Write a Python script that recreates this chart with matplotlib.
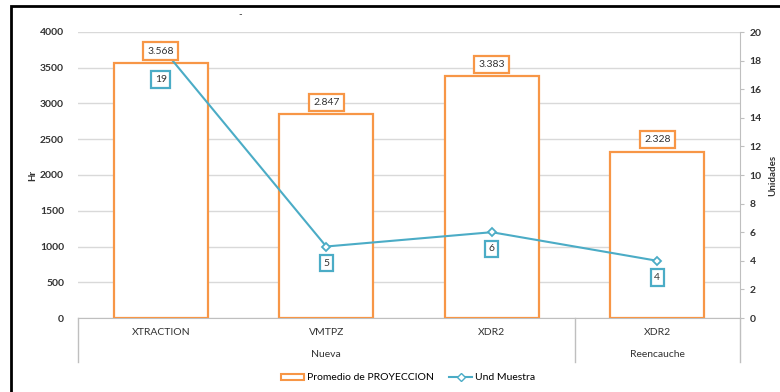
import matplotlib
matplotlib.use("Agg")
import matplotlib.pyplot as plt
from matplotlib.patches import Rectangle, Patch
from matplotlib.lines import Line2D

plt.rcParams['font.family'] = ['Lato', 'DejaVu Sans']

categories = ["XTRACTION", "VMTPZ", "XDR2", "XDR2"]
groups = ["Nueva", "Reencauche"]
group_sizes = [3, 1]
hours = [3568, 2847, 3383, 2328]
hour_labels = ["3.568", "2.847", "3.383", "2.328"]
units = [19, 5, 6, 4]

ORANGE = "#F79646"
TEAL = "#4BACC6"
GRID = "#D9D9D9"
TXT = "#333333"

fig = plt.figure(figsize=(7.8, 3.92), dpi=100)
ax = fig.add_axes([78/780, 1-318/392, (740-78)/780, (318-32)/392])
x = list(range(len(categories)))
ax.bar(x, hours, width=0.565, facecolor="white", edgecolor=ORANGE, linewidth=1.6, zorder=3)
ax.set_xlim(-0.5, len(categories)-0.5)
ax.set_ylim(0, 4000)
ax.set_yticks(range(0, 4001, 500))
ax.yaxis.grid(True, color=GRID, linewidth=1.0, zorder=0)
ax.set_axisbelow(True)
for s in ["top", "left", "right"]:
    ax.spines[s].set_visible(False)
ax.spines["bottom"].set_color("#BFBFBF")
ax.tick_params(axis="y", length=0, labelsize=7.5, labelcolor=TXT, pad=10)
ax.tick_params(axis="x", length=0, labelbottom=False)
for lab in ax.get_yticklabels():
    lab.set_fontweight("bold")

ax2 = ax.twinx()
ax2.set_ylim(0, 20)
ax2.set_yticks(range(0, 21, 2))
ax2.plot(x, units, color=TEAL, linewidth=1.5, marker="D", markersize=4.5,
         markerfacecolor="white", markeredgecolor=TEAL, markeredgewidth=1.3, zorder=5)
for s in ["top", "left", "bottom"]:
    ax2.spines[s].set_visible(False)
ax2.spines["right"].set_color("#BFBFBF")
ax2.spines["right"].set_bounds(0, 20)
ax2.tick_params(axis="y", length=3, color="#BFBFBF", labelsize=7.5, labelcolor=TXT, pad=4)
for lab in ax2.get_yticklabels():
    lab.set_fontweight("bold")

# line labels
line_offsets = [-24, -12, -12, -12]
for xi, u, off in zip(x, units, line_offsets):
    ax2.annotate(str(u), xy=(xi, u), xytext=(0, off), textcoords="offset points",
                 ha="center", va="center", fontsize=7.5, color=TXT, zorder=8,
                 bbox=dict(boxstyle="square,pad=0.35", facecolor="white", edgecolor=TEAL, linewidth=1.6))
# bar labels (on top of line)
for xi, h, lab in zip(x, hours, hour_labels):
    ax2.annotate(lab, xy=(xi, h), xycoords=ax.transData, xytext=(0, 8.5), textcoords="offset points",
                 ha="center", va="center", fontsize=7.5, color=TXT, zorder=9,
                 bbox=dict(boxstyle="square,pad=0.4", facecolor="white", edgecolor=ORANGE, linewidth=1.6))

# multi-level category axis
trans = ax.get_xaxis_transform()
for xi, c in zip(x, categories):
    ax.text(xi, -0.052, c, transform=trans, ha="center", va="center", fontsize=7.5, color=TXT)
start = 0
seps = [-0.5]
for g, n in zip(groups, group_sizes):
    center = start + (n - 1) / 2
    ax.text(center, -0.129, g, transform=trans, ha="center", va="center", fontsize=7.5, color=TXT)
    start += n
    seps.append(start - 0.5)
for sx in seps:
    ax.plot([sx, sx], [0, -0.154], transform=trans, color="#BFBFBF", linewidth=1, clip_on=False)

fig.text(33/780, 1-175/392, "Hr", rotation=90, ha="center", va="center", fontsize=7,
         fontweight="bold", color=TXT)
fig.text(773/780, 1-175/392, "Unidades", rotation=90, ha="center", va="center", fontsize=7,
         fontweight="bold", color=TXT)
fig.text(240/780, 1-15/392, "-", ha="center", va="center", fontsize=7, color=TXT)

handles = [Patch(facecolor="white", edgecolor=ORANGE, linewidth=1.5),
           Line2D([0], [0], color=TEAL, linewidth=1.5, marker="D", markersize=4,
                  markerfacecolor="white", markeredgecolor=TEAL)]
fig.legend(handles, ["Promedio de PROYECCION", "Und Muestra"], loc="center",
           bbox_to_anchor=(408/780, 1-378/392), ncol=2, frameon=False, fontsize=7.5,
           handlelength=2.2, handleheight=0.6, columnspacing=1.5, handletextpad=0.3)

fig.patches.append(Rectangle((11/780, -0.1), 1.2, 1-6/392+0.1, transform=fig.transFigure,
                             fill=False, edgecolor="black", linewidth=2, figure=fig))

fig.savefig("out.png", dpi=100)
